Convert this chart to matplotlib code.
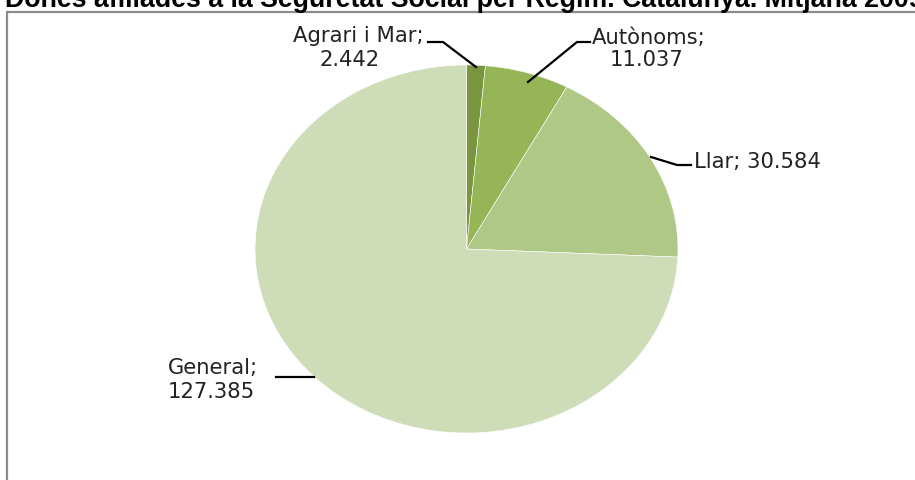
import matplotlib
matplotlib.use("Agg")
import matplotlib.pyplot as plt
from matplotlib.patches import Rectangle

categories = ["Agrari i Mar", "Autònoms", "Llar", "General"]
values = [2.442, 11.037, 30.584, 127.385]
value_labels = ["2.442", "11.037", "30.584", "127.385"]
colors = ["#7A9440", "#95B557", "#B0C886", "#CFDCB8"]
title = "Dones afiliades a la Seguretat Social per Règim. Catalunya. Mitjana 2009"

W, H = 915, 480
fig = plt.figure(figsize=(W / 100, H / 100), dpi=100)
fig.patch.set_facecolor("white")

# chart frame
fig.add_artist(Rectangle((6.5 / W, -0.1), 1.2, (H - 11.5) / H + 0.1,
                         transform=fig.transFigure, fill=False,
                         edgecolor="#8C8C8C", linewidth=1.6))

ax = fig.add_axes([0, 0, 1, 1])
cx, cy = 466.5, 249.0
rx, ry = 211.5, 184.0
ax.pie(values, colors=colors, startangle=90, counterclock=False,
       wedgeprops=dict(edgecolor="white", linewidth=0.4))
ax.set_aspect("auto")
ax.set_xlim(-cx / rx, (W - cx) / rx)
ax.set_ylim(-(H - cy) / ry, cy / ry)
ax.axis("off")


def P(px, py):
    return ((px - cx) / rx, (cy - py) / ry)


font = dict(family=["DejaVu Sans"], fontsize=15.2, color="#222222")
lk = dict(color="black", lw=1.6, clip_on=False)

# Agrari i Mar
ax.text(*P(358, 36), f"{categories[0]};", ha="center", va="center", **font)
ax.text(*P(350, 60), value_labels[0], ha="center", va="center", **font)
x1, y1 = zip(P(428, 42), P(443, 42), P(476, 67))
ax.plot(x1, y1, **lk)

# Autònoms
ax.text(*P(649, 38), f"{categories[1]};", ha="center", va="center", **font)
ax.text(*P(647, 60), value_labels[1], ha="center", va="center", **font)
x2, y2 = zip(P(590, 42), P(577, 42), P(528, 82))
ax.plot(x2, y2, **lk)

# Llar
ax.text(*P(694, 162), f"{categories[2]}; {value_labels[2]}", ha="left", va="center", **font)
x3, y3 = zip(P(691, 165), P(677, 165), P(651, 157))
ax.plot(x3, y3, **lk)

# General
ax.text(*P(168, 368), f"{categories[3]};", ha="left", va="center", **font)
ax.text(*P(168, 392), value_labels[3], ha="left", va="center", **font)
x4, y4 = zip(P(276, 377), P(314, 377))
ax.plot(x4, y4, **lk)

fig.text(5 / W, 1 - 7 / H, title, ha="left", va="baseline",
         family=["Liberation Sans", "DejaVu Sans"], fontweight="bold",
         fontsize=19.3, color="black")

fig.savefig("out.png", dpi=100)
